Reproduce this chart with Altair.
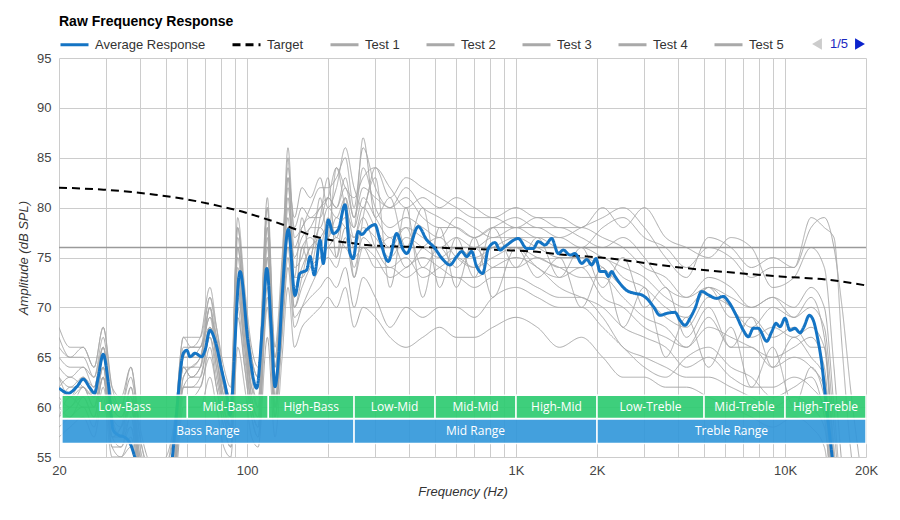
import altair as alt
import pandas as pd

# ---------------- data ----------------
AVG_FREQ = [20, 21.7, 23.3, 24.6, 26.1, 27.1, 28.0, 29.2, 30.5, 31.8, 33.2, 35, 37, 38.3, 41.8, 45.5,
            49.5, 52.5, 54.0, 58.0, 59.7, 61.4, 64.1, 67.8, 69.8, 72.8, 76.0, 80.5, 84.0, 86.4, 94.2,
            101, 108.6, 114, 118.4, 123, 127, 131, 135, 142.4, 150.8, 157.3, 166.6, 171.5, 177.9,
            186.8, 192.1, 200.5, 209.2, 218.4, 231.4, 241.5, 248, 259, 267, 278.6, 299, 312, 335,
            360, 381, 392, 433, 466, 493, 537, 568, 602, 628, 656, 684, 714, 752, 789, 835, 872,
            910, 1020, 1096, 1159, 1210, 1282, 1357, 1435, 1498, 1587, 1657, 1755, 1831, 1912,
            1983, 2052, 2142, 2204, 2268, 2333, 2579, 2770, 2932, 3060, 3238, 3430, 3632, 3900,
            4070, 4248, 4434, 4628, 4900, 5186, 5572, 5896, 6154, 6612, 6998, 7304, 7622, 7958,
            8550, 8924, 9258, 9580, 10000, 10438, 10890, 11366, 11762, 12308, 12740, 13184, 13690,
            14084, 14488, 14914, 15472, 16712, 20000]
AVG_DB = [61.9, 61.4, 62.05, 62.8, 61.9, 61.4, 63.05, 65.3, 62.4, 57.7, 57.2, 57.0, 56.2, 55.0, 52.5,
          50.5, 51.5, 54.4, 57.7, 65.4, 65.7, 65.05, 65.4, 65.05, 65.7, 67.7, 66.7, 63.7, 61.4, 59.2,
          73.6, 66.4, 61.9, 68.0, 73.9, 68.0, 62.05, 65.0, 71.0, 77.8, 71.2, 73.4, 73.75, 75.1, 73.25,
          76.75, 74.4, 78.75, 77.4, 77.8, 80.3, 75.4, 74.9, 77.6, 77.3, 77.8, 78.3, 76.75, 74.6,
          77.4, 75.75, 75.4, 78.1, 76.75, 76.1, 74.75, 74.25, 75.1, 75.6, 75.1, 75.6, 74.1, 73.4,
          75.9, 76.5, 75.75, 76.1, 76.9, 75.9, 75.9, 76.6, 76.25, 76.9, 75.4, 75.75, 75.25, 75.4,
          74.4, 74.8, 74.25, 74.9, 73.6, 73.6, 73.1, 73.6, 73.1, 71.7, 71.4, 71.25, 70.9, 70.1,
          69.2, 69.4, 69.5, 68.7, 68.2, 68.9, 69.9, 71.6, 71.25, 70.9, 71.1, 70.6, 69.1, 67.7,
          67.05, 67.9, 67.9, 66.6, 67.55, 68.4, 68.05, 68.9, 67.7, 67.9, 67.45, 68.05, 69.2, 68.7,
          67.05, 64.4, 61.4, 58.4, 55.4, 52.0, 48.0, 45.0]

TGT_FREQ = [20, 29.3, 45.5, 60.5, 80.5, 92.8, 113.4, 142.4, 179, 209, 252, 279, 493, 872, 1159,
            1544, 2052, 4070, 9580, 14700, 20000]
TGT_DB = [82.0, 81.8, 81.3, 80.8, 80.1, 79.7, 79.0, 78.1, 77.1, 76.7, 76.4, 76.25, 76.0, 75.75,
          75.6, 75.25, 75.0, 74.0, 73.1, 72.75, 72.2]

GRID_FREQ = [20, 22, 24.6, 27, 29.2, 31.5, 34, 37, 40, 45, 50, 54, 58, 62, 67, 72.8, 77, 82, 87,
             92.3, 98, 104, 110, 119, 127, 135, 142, 150, 160, 172, 187, 200, 215, 232, 250, 270,
             300, 340, 390, 450, 520, 600, 700, 820, 1000, 1200, 1450, 1750, 2100, 2500, 3000,
             3600, 4300, 5200, 6300, 7500, 9000, 10800, 12500, 14000, 15200, 16300, 17500, 20000]

TEST_NAMES = ["Test %d" % i for i in range(1, 17)]
TEST_1 = [64, 63, 64, 62, 66, 59, 58, 60, 54, 50, 51, 56, 64, 63, 64, 68, 65, 61, 59, 74,
          68, 62, 60, 76, 63, 71, 80, 75, 77, 78, 80, 81, 80, 83, 79, 84, 80, 78, 79, 78,
          77, 79, 78, 77, 78, 78, 77, 78, 79, 80, 78, 75, 73, 77, 76, 74, 75, 74, 79, 78,
          77, 66, 56, 48]
TEST_2 = [66, 65, 65, 63, 67, 61, 60, 63, 57, 53, 54, 58, 66, 66, 66, 71, 67, 63, 61, 78,
          71, 65, 63, 80, 65, 74, 86, 77, 78, 80, 82, 82, 83, 85, 80, 86, 82, 80, 82, 80,
          79, 78, 77, 78, 79, 78, 78, 77, 76, 77, 75, 72, 71, 73, 72, 70, 71, 70, 72, 70,
          60, 50, 45, 44]
TEST_3 = [57, 58, 59, 57, 61, 55, 55, 56, 50, 47, 48, 52, 60, 60, 60, 63, 60, 56, 55, 66,
          62, 57, 56, 67, 57, 65, 72, 66, 68, 69, 70, 71, 70, 72, 68, 70, 69, 67, 66, 67,
          68, 67, 67, 68, 69, 68, 66, 67, 65, 63, 63, 62, 62, 61, 60, 59, 58, 59, 58, 56,
          48, 44, 43, 42]
TEST_4 = [62, 61, 63, 61, 65, 58, 57, 58, 52, 49, 50, 55, 65, 65, 66, 68, 66, 61, 59, 73,
          67, 62, 61, 74, 62, 70, 78, 72, 74, 76, 77, 78, 78, 79, 76, 78, 77, 75, 77, 76,
          75, 76, 75, 76, 77, 76, 75, 75, 74, 72, 71, 69, 68, 71, 70, 67, 68, 67, 68, 66,
          54, 47, 44, 43]
TEST_5 = [60, 62, 62, 61, 64, 57, 56, 59, 53, 50, 50, 54, 63, 64, 65, 69, 65, 60, 57, 71,
          66, 60, 58, 73, 60, 69, 76, 70, 72, 74, 75, 76, 77, 76, 75, 76, 74, 74, 73, 74,
          73, 73, 72, 73, 73, 72, 71, 71, 69, 66, 65, 64, 63, 63, 62, 61, 60, 61, 60, 58,
          50, 45, 43, 42]
TEST_6 = [68, 66, 66, 64, 68, 62, 61, 64, 58, 54, 55, 59, 67, 67, 67, 71, 68, 64, 62, 79,
          72, 66, 64, 81, 66, 75, 84, 78, 80, 79, 80, 81, 84, 82, 81, 83, 84, 81, 83, 82,
          81, 80, 79, 79, 78, 79, 78, 78, 77, 76, 74, 73, 71, 72, 70, 68, 70, 69, 71, 67,
          56, 48, 45, 44]
TEST_7 = [61, 60, 62, 60, 64, 57, 58, 62, 55, 51, 52, 57, 64, 64, 65, 70, 66, 62, 58, 75,
          68, 63, 60, 77, 61, 72, 79, 71, 76, 77, 76, 79, 77, 80, 77, 79, 76, 74, 75, 73,
          74, 75, 74, 76, 76, 75, 74, 73, 73, 71, 69, 68, 66, 68, 67, 66, 65, 66, 67, 64,
          52, 46, 44, 43]
TEST_8 = [58, 59, 60, 58, 62, 56, 55, 57, 51, 48, 49, 53, 61, 61, 62, 65, 62, 58, 56, 69,
          64, 59, 57, 70, 59, 67, 74, 68, 70, 72, 74, 75, 74, 77, 73, 76, 75, 73, 74, 75,
          74, 73, 73, 74, 75, 74, 72, 71, 70, 68, 67, 66, 64, 65, 63, 62, 62, 63, 62, 60,
          49, 45, 43, 42]
TEST_9 = [63, 62, 63, 62, 66, 60, 59, 61, 54, 50, 51, 56, 65, 66, 66, 69, 67, 62, 60, 76,
          69, 63, 62, 78, 64, 72, 81, 74, 75, 78, 78, 80, 79, 81, 78, 81, 79, 77, 78, 77,
          76, 77, 76, 77, 77, 77, 76, 76, 75, 74, 73, 71, 70, 72, 71, 70, 71, 69, 70, 68,
          58, 49, 45, 44]
TEST_10 = [65, 64, 64, 63, 66, 60, 59, 61, 55, 51, 52, 57, 65, 65, 65, 70, 66, 62, 60, 77,
           70, 64, 62, 79, 64, 73, 82, 76, 78, 79, 79, 81, 80, 82, 79, 82, 81, 80, 81, 79,
           78, 78, 77, 78, 78, 77, 77, 76, 78, 79, 77, 76, 74, 76, 75, 73, 74, 74, 78, 79,
           76, 70, 62, 50]
TEST_11 = [59, 60, 61, 59, 63, 57, 57, 59, 53, 49, 50, 55, 62, 62, 63, 67, 64, 59, 57, 72,
           66, 60, 58, 75, 61, 68, 83, 73, 79, 75, 81, 77, 84, 80, 78, 87, 79, 81, 76, 80,
           72, 77, 73, 78, 74, 77, 73, 76, 72, 75, 70, 72, 67, 70, 66, 69, 64, 67, 65, 63,
           52, 46, 44, 43]
TEST_12 = [62, 63, 62, 61, 65, 59, 57, 62, 56, 52, 53, 57, 64, 63, 64, 70, 64, 60, 58, 76,
           69, 61, 59, 78, 60, 70, 85, 71, 76, 74, 79, 83, 75, 81, 73, 79, 83, 72, 80, 71,
           78, 72, 77, 71, 76, 73, 75, 70, 74, 68, 72, 65, 69, 64, 68, 62, 66, 60, 64, 61,
           50, 45, 43, 42]
TEST_13 = [67, 65, 66, 64, 68, 62, 60, 64, 57, 53, 54, 59, 67, 66, 67, 72, 68, 63, 61, 78,
           71, 65, 63, 80, 65, 73, 83, 79, 82, 81, 83, 80, 82, 86, 82, 80, 84, 82, 80, 81,
           80, 81, 80, 79, 80, 79, 79, 78, 80, 78, 80, 77, 76, 75, 77, 76, 72, 73, 76, 74,
           64, 54, 47, 45]
TEST_14 = [60, 59, 61, 59, 63, 56, 56, 58, 52, 48, 49, 54, 62, 62, 62, 66, 62, 58, 56, 70,
           64, 59, 57, 71, 59, 68, 75, 69, 70, 71, 72, 73, 72, 74, 70, 73, 71, 68, 70, 69,
           70, 70, 69, 71, 72, 71, 70, 70, 68, 66, 64, 63, 65, 66, 64, 63, 61, 62, 63, 59,
           48, 44, 43, 42]
TEST_15 = [63, 61, 62, 60, 64, 58, 57, 60, 54, 50, 51, 55, 63, 64, 64, 68, 65, 60, 58, 73,
           67, 61, 59, 75, 62, 70, 77, 73, 73, 75, 78, 77, 79, 78, 77, 80, 78, 76, 78, 74,
           76, 74, 76, 74, 74, 75, 74, 74, 75, 73, 72, 70, 69, 72, 69, 69, 67, 68, 66, 66,
           55, 47, 44, 43]
TEST_16 = [59, 61, 60, 60, 63, 57, 58, 60, 53, 49, 50, 54, 62, 63, 63, 67, 63, 59, 57, 72,
           65, 60, 58, 72, 60, 69, 78, 70, 73, 76, 76, 76, 75, 78, 74, 77, 76, 77, 74, 76,
           77, 75, 74, 75, 76, 74, 73, 74, 71, 70, 68, 67, 66, 69, 66, 66, 64, 65, 64, 62,
           51, 46, 44, 43]
TEST_VALUES = [TEST_1, TEST_2, TEST_3, TEST_4, TEST_5, TEST_6, TEST_7, TEST_8, TEST_9, TEST_10,
               TEST_11, TEST_12, TEST_13, TEST_14, TEST_15, TEST_16]

REF_LEVEL = [76]

BAND_NAMES = ["Low-Bass", "Mid-Bass", "High-Bass", "Low-Mid", "Mid-Mid", "High-Mid",
              "Low-Treble", "Mid-Treble", "High-Treble"]
BAND_START = [20.5, 60, 120, 250, 500, 1000, 2000, 5000, 10000]
BAND_END = [60, 120, 250, 500, 1000, 2000, 5000, 10000, 20000]
RANGE_NAMES = ["Bass Range", "Mid Range", "Treble Range"]
RANGE_START = [20.5, 250, 2000]
RANGE_END = [250, 2000, 20000]

X_GRID = [20, 30, 40, 50, 60, 70, 80, 90, 100, 200, 300, 400, 500, 600, 700, 800, 900,
          1000, 2000, 3000, 4000, 5000, 6000, 7000, 8000, 9000, 10000, 20000]
X_LABELS = {20: "20", 100: "100", 1000: "1K", 2000: "2K", 10000: "10K", 20000: "20K"}
Y_TICKS = [55, 60, 65, 70, 75, 80, 85, 90, 95]

SERIES_ORDER = ["Average Response", "Target"] + TEST_NAMES
LEGEND_VALUES = ["Average Response", "Target", "Test 1", "Test 2", "Test 3", "Test 4", "Test 5"]

# ---------------- frames ----------------
test_rows = []
for name, vals in zip(TEST_NAMES, TEST_VALUES):
    for f, v in zip(GRID_FREQ, vals):
        test_rows.append({"series": name, "freq": f, "db": v})
tests_df = pd.DataFrame(test_rows)
avg_df = pd.DataFrame({"series": "Average Response", "freq": AVG_FREQ, "db": AVG_DB})
tgt_df = pd.DataFrame({"series": "Target", "freq": TGT_FREQ, "db": TGT_DB})
bands_df = pd.DataFrame({"name": BAND_NAMES, "start": BAND_START, "end": BAND_END})
ranges_df = pd.DataFrame({"name": RANGE_NAMES, "start": RANGE_START, "end": RANGE_END})

label_expr = " : ".join(
    f"datum.value == {k} ? '{v}'" for k, v in X_LABELS.items()
) + " : ''"

x_scale = alt.Scale(type="log", domain=[20, 20000], nice=False)
y_scale = alt.Scale(domain=[55, 95], nice=False, zero=False)

x_enc = alt.X("freq:Q", scale=x_scale,
              axis=alt.Axis(values=X_GRID, labelExpr=label_expr, title="Frequency (Hz)",
                            labelFlush=False, labelOverlap=False, labelBound=False))
y_enc = alt.Y("db:Q", scale=y_scale,
              axis=alt.Axis(values=Y_TICKS, title="Amplitude (dB SPL)"))

legend = alt.Legend(title=None, orient="top", direction="horizontal", values=LEGEND_VALUES,
                    symbolType="stroke", symbolSize=784, symbolStrokeWidth=3,
                    labelFont="Liberation Sans", labelFontSize=13, labelColor="#333333",
                    columnPadding=20, labelOffset=5, offset=6, padding=0)
color_enc = alt.Color("series:N",
                      scale=alt.Scale(domain=SERIES_ORDER,
                                      range=["#1474c4", "#000000"] + ["#a9a9a9"] * len(TEST_NAMES)),
                      legend=legend)
dash_enc = alt.StrokeDash("series:N",
                          scale=alt.Scale(domain=SERIES_ORDER,
                                          range=[[1, 0], [8, 5]] + [[1, 0]] * len(TEST_NAMES)),
                          legend=legend)

tests = alt.Chart(tests_df).mark_line(strokeWidth=1, clip=True, interpolate="monotone").encode(
    x=x_enc, y=y_enc, color=color_enc, strokeDash=dash_enc, detail="series:N")

ref = alt.Chart(pd.DataFrame({"db": REF_LEVEL})).mark_rule(color="#9a9a9a", strokeWidth=1.5).encode(
    y=alt.Y("db:Q", scale=y_scale))

target = alt.Chart(tgt_df).mark_line(strokeWidth=2, clip=True, interpolate="monotone").encode(
    x=x_enc, y=y_enc, color=color_enc, strokeDash=dash_enc)

avg = alt.Chart(avg_df).mark_line(strokeWidth=3, clip=True, interpolate="monotone").encode(
    x=x_enc, y=y_enc, color=color_enc, strokeDash=dash_enc)

band_rects = alt.Chart(bands_df).mark_rect(color="#2ecc71", opacity=0.92, stroke="white",
                                           strokeWidth=1.5).encode(
    x=alt.X("start:Q", scale=x_scale), x2="end:Q",
    y=alt.datum(61.2), y2=alt.datum(58.85))
band_text = alt.Chart(bands_df).transform_calculate(
    mid="sqrt(datum.start * datum.end)").mark_text(
    color="white", font="Open Sans", fontSize=12).encode(
    x=alt.X("mid:Q", scale=x_scale), y=alt.datum(60.02), text="name:N")

range_rects = alt.Chart(ranges_df).mark_rect(color="#3498db", opacity=0.92, stroke="white",
                                             strokeWidth=1.5).encode(
    x=alt.X("start:Q", scale=x_scale), x2="end:Q",
    y=alt.datum(58.8), y2=alt.datum(56.35))
range_text = alt.Chart(ranges_df).transform_calculate(
    mid="sqrt(datum.start * datum.end)").mark_text(
    color="white", font="Open Sans", fontSize=12).encode(
    x=alt.X("mid:Q", scale=x_scale), y=alt.datum(57.57), text="name:N")

pager_df = pd.DataFrame({"t": ["1/5"]})
pager_prev = alt.Chart(pager_df).mark_point(shape="triangle-left", filled=True, size=130,
                                            color="#cccccc", opacity=1).encode(
    x=alt.value(758), y=alt.value(-14))
pager_text = alt.Chart(pager_df).mark_text(font="Liberation Sans", fontSize=13,
                                           color="#1a28c0").encode(
    x=alt.value(780), y=alt.value(-14), text="t:N")
pager_next = alt.Chart(pager_df).mark_point(shape="triangle-right", filled=True, size=130,
                                            color="#0a22cc", opacity=1).encode(
    x=alt.value(801), y=alt.value(-14))

chart = alt.layer(
    tests, ref, target, avg, band_rects, range_rects, band_text, range_text,
    pager_prev, pager_text, pager_next
).properties(
    width=807, height=399,
    title=alt.Title("Raw Frequency Response", anchor="start", frame="group",
                    font="Liberation Sans", fontSize=14, fontWeight="bold", color="#000000",
                    offset=0),
    autosize=alt.AutoSizeParams(type="none"),
    padding={"left": 51, "top": 50, "right": 26, "bottom": 54},
).configure_view(stroke=None).configure_axis(
    gridColor="#cccccc", gridWidth=1, domain=False, ticks=False,
    labelFont="Liberation Sans", labelFontSize=13, labelColor="#444444",
    titleFont="Liberation Sans", titleFontSize=13, titleFontStyle="italic",
    titleFontWeight="normal", titleColor="#333333"
).configure_axisY(labelPadding=8, titlePadding=6).configure_axisX(labelPadding=7, titlePadding=8)

chart.save("out.html", embed_options={"renderer": "svg", "actions": False})
